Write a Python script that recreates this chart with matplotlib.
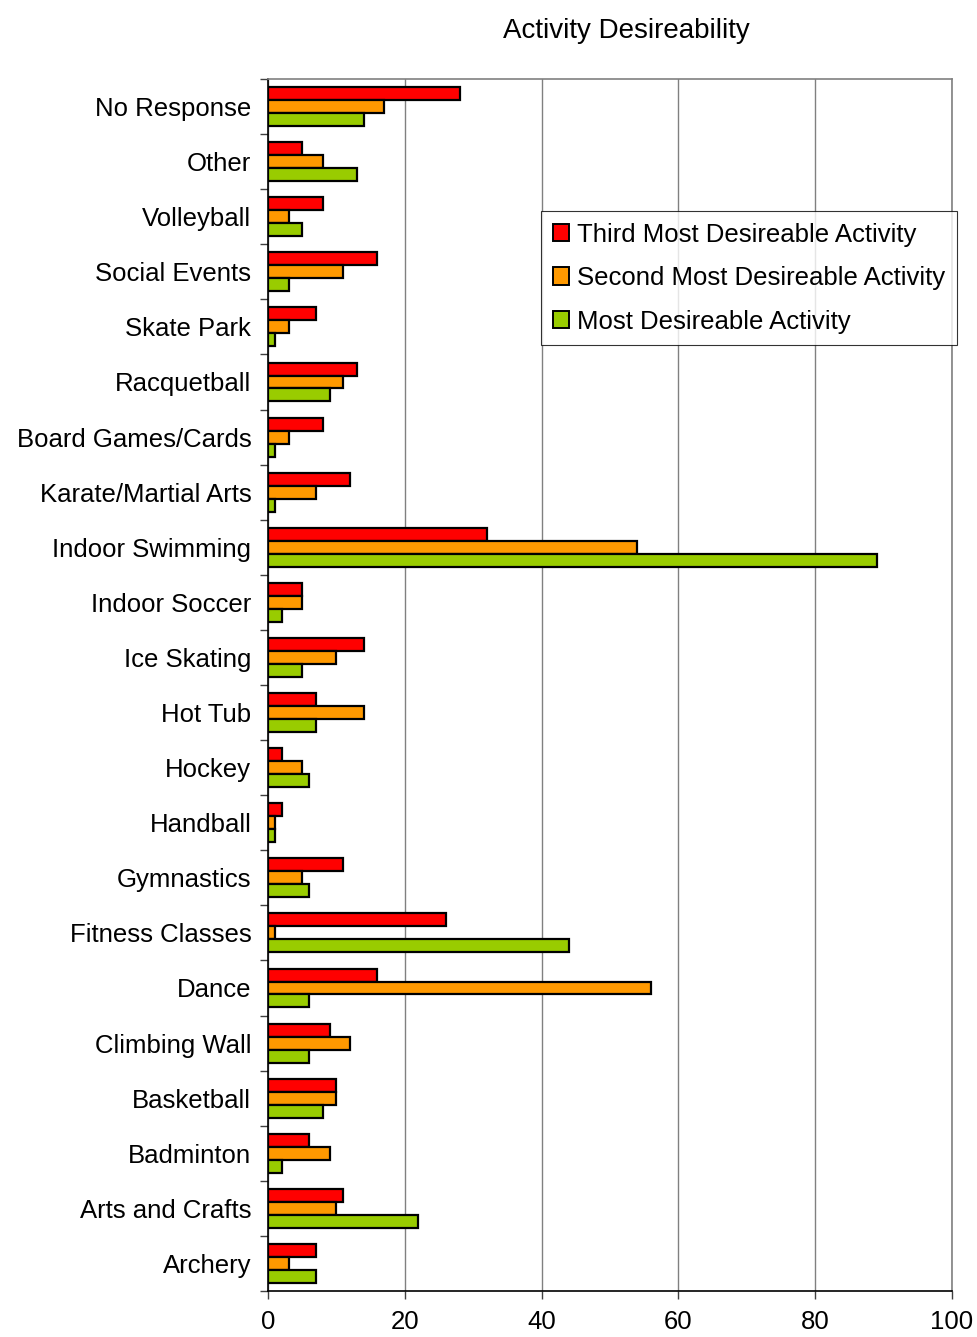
import matplotlib
matplotlib.use("Agg")
import matplotlib.pyplot as plt
import numpy as np
from matplotlib.patches import Patch

plt.rcParams['font.family'] = ['Liberation Sans', 'DejaVu Sans']

categories = ["Archery", "Arts and Crafts", "Badminton", "Basketball", "Climbing Wall",
              "Dance", "Fitness Classes", "Gymnastics", "Handball", "Hockey", "Hot Tub",
              "Ice Skating", "Indoor Soccer", "Indoor Swimming", "Karate/Martial Arts",
              "Board Games/Cards", "Racquetball", "Skate Park", "Social Events",
              "Volleyball", "Other", "No Response"]
third = [7, 11, 6, 10, 9, 16, 26, 11, 2, 2, 7, 14, 5, 32, 12, 8, 13, 7, 16, 8, 5, 28]
second = [3, 10, 9, 10, 12, 56, 1, 5, 1, 5, 14, 10, 5, 54, 7, 3, 11, 3, 11, 3, 8, 17]
most = [7, 22, 2, 8, 6, 6, 44, 6, 1, 6, 7, 5, 2, 89, 1, 1, 9, 1, 3, 5, 13, 14]
series_names = ["Third Most Desireable Activity", "Second Most Desireable Activity",
                "Most Desireable Activity"]
colors = ["#FF0000", "#FF9900", "#99CC00"]
xticks = [0, 20, 40, 60, 80, 100]

fig = plt.figure(figsize=(9.77, 13.37), dpi=100)
ax = fig.add_axes([268/977, 1 - 1291/1337, (952-268)/977, (1291-79)/1337])

y = np.arange(len(categories))
h = 0.235
for vals, off, c in zip([third, second, most], [h, 0, -h], colors):
    ax.barh(y + off, vals, height=h, color=c, edgecolor='black', linewidth=1.6, zorder=3)

ax.set_xlim(0, 100)
ax.set_ylim(-0.5, len(categories) - 0.5)
ax.set_xticks(xticks)
ax.set_xticklabels([str(v) for v in xticks], fontsize=18.5)
ax.xaxis.grid(True, color='#808080', linewidth=1.0, zorder=0)

ax.set_yticks(np.arange(-0.5, len(categories), 1.0))
ax.set_yticklabels([])
ax.set_yticks(y, minor=True)
ax.set_yticklabels(categories, minor=True, fontsize=18.5)
ax.tick_params(axis='y', which='major', length=6, width=1, color='#404040')
ax.tick_params(axis='y', which='minor', length=0, pad=12)
ax.tick_params(axis='x', which='major', length=6, width=1, pad=8, color='#404040')

for s in ['top', 'right']:
    ax.spines[s].set_color('#808080')
    ax.spines[s].set_linewidth(1.2)
for s in ['left', 'bottom']:
    ax.spines[s].set_color('black')
    ax.spines[s].set_linewidth(1.2)

handles = [Patch(facecolor=c, edgecolor='black', linewidth=1.4) for c in colors]
leg = fig.legend(handles, series_names, loc='upper left',
                 bbox_to_anchor=(541/977, 1 - 211/1337), fontsize=18.5,
                 frameon=True, fancybox=False, edgecolor='black',
                 handlelength=0.65, handleheight=0.65, handletextpad=0.3,
                 borderpad=0.45, labelspacing=0.76, borderaxespad=0)
leg.get_frame().set_linewidth(0.8)

fig.text(626/977, 1 - 31/1337, "Activity Desireability", ha='center', va='center',
         fontsize=20)

fig.savefig("out.png", dpi=100)
